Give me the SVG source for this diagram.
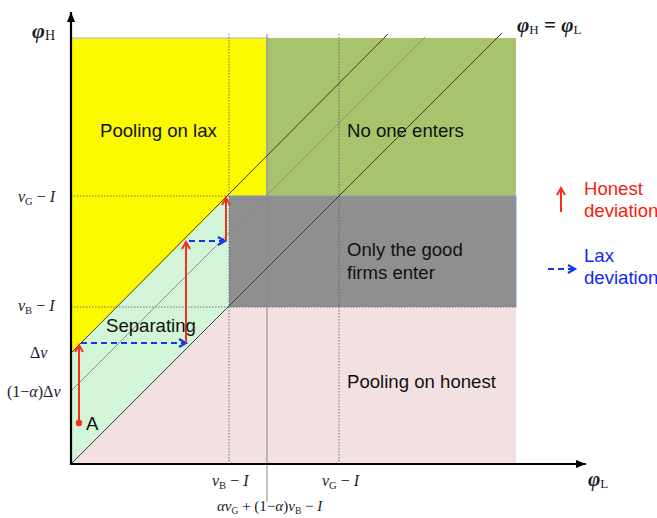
<svg xmlns="http://www.w3.org/2000/svg" width="657" height="518" viewBox="0 0 657 518">
<defs>
<style>
.lbl{font-family:"Liberation Sans",Arial,sans-serif;font-size:18.6px;fill:#111}
.m{font-family:"Liberation Serif","Times New Roman",serif;font-size:16px;fill:#1a1a2a}
.i{font-style:italic}
.sub{font-size:10.5px}
.dot{stroke:#555;stroke-width:0.8;stroke-dasharray:1.5 1.5;fill:none}
.diag{stroke:#3a3a3a;stroke-width:1;fill:none}
.red{stroke:#f2301c;stroke-width:2;fill:none}
.blue{stroke:#1437f0;stroke-width:2.2;stroke-dasharray:6 4;fill:none}
</style>
<marker id="ar" markerUnits="userSpaceOnUse" markerWidth="12" markerHeight="12" refX="8" refY="5" orient="auto">
<path d="M1,1 L8,5 L1,9" fill="none" stroke="#f2301c" stroke-width="2"/>
</marker>
<marker id="ab" markerUnits="userSpaceOnUse" markerWidth="12" markerHeight="12" refX="8" refY="5" orient="auto">
<path d="M1,1 L8,5 L1,9" fill="none" stroke="#1437f0" stroke-width="2.2"/>
</marker>
<marker id="ax" markerUnits="userSpaceOnUse" markerWidth="12" markerHeight="12" refX="10" refY="5" orient="auto">
<path d="M0,1 L10,5 L0,9 Z" fill="#000"/>
</marker>
</defs>

<g id="regions">
<polygon id="pooling-lax" points="71,38 267,38 267,196 229,196 71,353" fill="#fdf900"/>
<rect id="no-one" x="267" y="38" width="249" height="158" fill="#a9c26c"/>
<rect id="only-good" x="229" y="196" width="287" height="111" fill="#8f8f8f" stroke="#7b9cc9" stroke-width="1"/>
<polygon id="pooling-honest" points="71,464 229,307 516,307 516,464" fill="#f3e1e1"/>
<polygon id="separating" points="71,353 229,196 229,307 71,464" fill="#d2f5d8"/>
<polyline points="71,38 267,38 267,196" fill="none" stroke="#a9b9c6" stroke-width="1.2"/>
</g>

<g id="connectors">
<line class="dot" x1="71" y1="196" x2="229" y2="196"/>
<line class="dot" x1="71" y1="307" x2="516" y2="307"/>
<line class="dot" x1="229" y1="34" x2="229" y2="464"/>
<line class="dot" x1="339" y1="34" x2="339" y2="464"/>
<line x1="267" y1="34" x2="267" y2="502" stroke="#888" stroke-width="1"/>
<line class="diag" x1="71" y1="353" x2="388" y2="34"/>
<line x1="71" y1="391" x2="425" y2="37" stroke="#888" stroke-width="0.9"/>
<line class="diag" x1="71" y1="464" x2="502" y2="33"/>
<line x1="71" y1="465" x2="71" y2="12" stroke="#000" stroke-width="2.2" marker-end="url(#ax)"/>
<line x1="70" y1="464" x2="586" y2="464" stroke="#000" stroke-width="2.2" marker-end="url(#ax)"/>
<circle cx="79" cy="423" r="3.2" fill="#f2301c"/>
<line class="red" x1="79" y1="423" x2="79" y2="345" marker-end="url(#ar)"/>
<line class="blue" x1="81" y1="343" x2="186" y2="343" marker-end="url(#ab)"/>
<line class="red" x1="186" y1="343" x2="186" y2="242" marker-end="url(#ar)"/>
<line class="blue" x1="189" y1="241" x2="225" y2="241" marker-end="url(#ab)"/>
<line class="red" x1="226" y1="241" x2="226" y2="198" marker-end="url(#ar)"/>
<line class="red" x1="561" y1="212" x2="561" y2="188" marker-end="url(#ar)"/>
<line class="blue" x1="548" y1="269" x2="575" y2="269" stroke-dasharray="5 3" marker-end="url(#ab)"/>
</g>

<g id="region-labels">
<text class="lbl" x="100" y="137">Pooling on lax</text>
<text class="lbl" x="347" y="137">No one enters</text>
<text class="lbl" x="347" y="256">Only the good</text>
<text class="lbl" x="347" y="279">firms enter</text>
<text class="lbl" x="106" y="332">Separating</text>
<text class="lbl" x="347" y="388">Pooling on honest</text>
<text class="lbl" x="86" y="430">A</text>
</g>

<g id="legend">
<text class="lbl" x="584" y="195" style="fill:#f51d10">Honest</text>
<text class="lbl" x="584" y="217" style="fill:#f51d10">deviation</text>
<text class="lbl" x="584" y="262" style="fill:#1428f5">Lax</text>
<text class="lbl" x="584" y="284" style="fill:#1428f5">deviation</text>
</g>

<g id="axis-labels">
<text class="m" x="32" y="38" style="font-size:22px;font-weight:bold"><tspan class="i">φ</tspan><tspan style="font-size:14px;font-weight:normal" dy="2">H</tspan></text>
<text class="m" x="517" y="32" style="font-size:21px;font-weight:bold"><tspan class="i">φ</tspan><tspan style="font-size:13px;font-weight:normal" dy="2">H</tspan><tspan dy="-2"> = </tspan><tspan class="i">φ</tspan><tspan style="font-size:13px;font-weight:normal" dy="2">L</tspan></text>
<text class="m" x="588" y="486" style="font-size:21px;font-weight:bold"><tspan class="i">φ</tspan><tspan style="font-size:13px;font-weight:normal" dy="2">L</tspan></text>
<text class="m" x="18" y="202"><tspan class="i">v</tspan><tspan class="sub" dy="3">G</tspan><tspan dy="-3"> − </tspan><tspan class="i">I</tspan></text>
<text class="m" x="18" y="311"><tspan class="i">v</tspan><tspan class="sub" dy="3">B</tspan><tspan dy="-3"> − </tspan><tspan class="i">I</tspan></text>
<text class="m" x="30" y="358">Δ<tspan class="i">v</tspan></text>
<text class="m" x="7" y="397">(1−<tspan class="i">α</tspan>)Δ<tspan class="i">v</tspan></text>
<text class="m" x="212" y="486"><tspan class="i">v</tspan><tspan class="sub" dy="3">B</tspan><tspan dy="-3"> − </tspan><tspan class="i">I</tspan></text>
<text class="m" x="322" y="486"><tspan class="i">v</tspan><tspan class="sub" dy="3">G</tspan><tspan dy="-3"> − </tspan><tspan class="i">I</tspan></text>
<text class="m" x="217" y="511" style="font-size:15px"><tspan class="i">αv</tspan><tspan class="sub" style="font-size:9.5px" dy="2.5">G</tspan><tspan dy="-2.5"> + (1−</tspan><tspan class="i">α</tspan><tspan>)</tspan><tspan class="i">v</tspan><tspan class="sub" style="font-size:9.5px" dy="2.5">B</tspan><tspan dy="-2.5"> − </tspan><tspan class="i">I</tspan></text>
</g>
</svg>
